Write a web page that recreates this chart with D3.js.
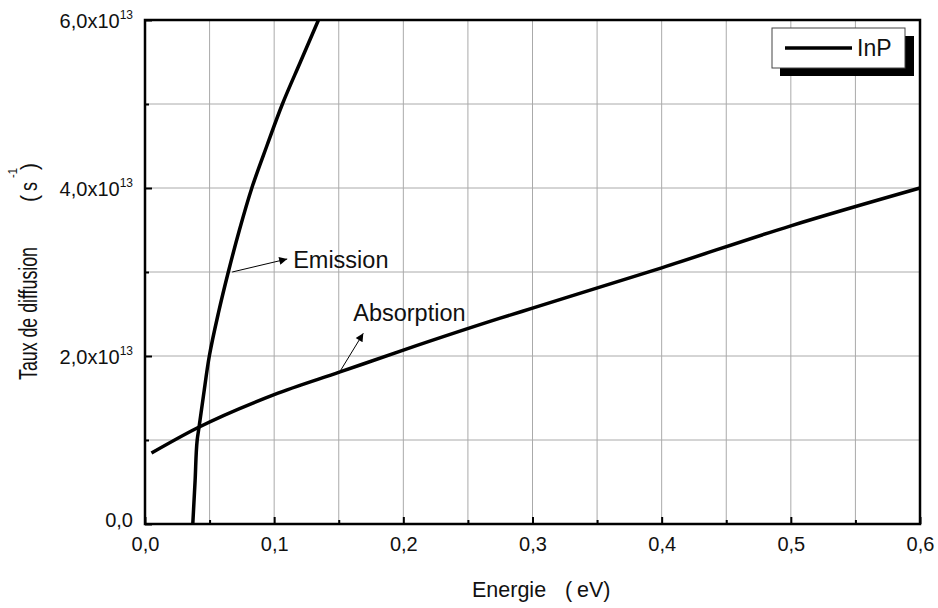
<!DOCTYPE html>
<html>
<head>
<meta charset="utf-8">
<script src="https://cdn.jsdelivr.net/npm/d3@7"></script>
<style>
  body { margin: 0; background: #fff; }
  text { font-family: "Liberation Sans", Arial, sans-serif; fill: #111; }
</style>
</head>
<body>
<svg id="chart" width="938" height="608"></svg>
<script>
// data (x in eV, y in units of 1e13 s^-1)
const emissionX = [0.0370, 0.0388, 0.0404, 0.0418, 0.0452, 0.0498, 0.0568, 0.0645, 0.0731, 0.0827, 0.0943, 0.1064, 0.1203, 0.1343];
const emissionY = [0.0, 0.52, 1.0, 1.15, 1.52, 2.0, 2.51, 3.0, 3.5, 4.0, 4.5, 5.0, 5.5, 6.0];
const absorptionX = [0.005, 0.04, 0.1, 0.151, 0.2, 0.275, 0.3, 0.4, 0.5, 0.6];
const absorptionY = [0.845, 1.14, 1.54, 1.81, 2.07, 2.45, 2.57, 3.05, 3.55, 4.0];
const xTicks = [0, 0.1, 0.2, 0.3, 0.4, 0.5, 0.6];
const yTicks = [0, 2, 4, 6];
const legendLabel = "InP";

const svg = d3.select("#chart");
const margin = {left: 145, right: 18, top: 20, bottom: 84};
const W = 938, H = 608;

const x = d3.scaleLinear().domain([0, 0.6]).range([margin.left, W - margin.right]);
const y = d3.scaleLinear().domain([0, 6]).range([H - margin.bottom, margin.top]);

const fmt = d => d3.format(".1f")(d).replace(".", ",");

// grid
const gx = d3.range(0.05, 0.6, 0.05);
const gy = d3.range(1, 6, 1);
svg.append("g").selectAll("line").data(gx).join("line")
  .attr("x1", d => x(d)).attr("x2", d => x(d))
  .attr("y1", y(0)).attr("y2", y(6))
  .attr("stroke", "#aaa").attr("stroke-width", 1);
svg.append("g").selectAll("line").data(gy).join("line")
  .attr("y1", d => y(d)).attr("y2", d => y(d))
  .attr("x1", x(0)).attr("x2", x(0.6))
  .attr("stroke", "#aaa").attr("stroke-width", 1);

// axes (ticks pointing inward)
const xAxis = d3.axisBottom(x).tickValues(xTicks).tickSize(-7).tickFormat(fmt);
const xMinor = d3.axisBottom(x).tickValues(gx.filter((d, i) => i % 2 === 0)).tickSize(-4).tickFormat("");
const yAxis = d3.axisLeft(y).tickValues(yTicks).tickSize(-7).tickFormat("");
const yMinor = d3.axisLeft(y).tickValues([1, 3, 5]).tickSize(-4).tickFormat("");

function styleAxis(g) {
  g.select(".domain").remove();
  g.selectAll(".tick line").attr("stroke", "#000").attr("stroke-width", 2);
}

svg.append("g").attr("transform", `translate(0,${y(0)})`).call(xAxis).call(styleAxis)
  .selectAll("text")
  .attr("y", 27).attr("dy", 0)
  .style("font-size", "20px").style("font-family", "Liberation Sans, Arial, sans-serif").attr("fill", "#111");
svg.append("g").attr("transform", `translate(0,${y(0)})`).call(xMinor).call(styleAxis);
svg.append("g").attr("transform", `translate(${x(0)},0)`).call(yAxis).call(styleAxis);
svg.append("g").attr("transform", `translate(${x(0)},0)`).call(yMinor).call(styleAxis);

// y tick labels with superscript
yTicks.forEach(v => {
  const t = svg.append("text")
    .attr("x", x(0) - 12).attr("y", y(v) + (v === 0 ? 3 : 8))
    .attr("text-anchor", "end").style("font-size", "20px");
  if (v === 0) {
    t.text(fmt(v));
  } else {
    t.append("tspan").text(fmt(v) + "x10");
    t.append("tspan").attr("dy", -9).style("font-size", "12px").text("13");
  }
});

// frame
svg.append("rect")
  .attr("x", x(0)).attr("y", y(6))
  .attr("width", x(0.6) - x(0)).attr("height", y(0) - y(6))
  .attr("fill", "none").attr("stroke", "#000").attr("stroke-width", 2.5);

// curves
const line = d3.line().x(d => x(d[0])).y(d => y(d[1])).curve(d3.curveMonotoneX);
svg.append("path").datum(absorptionX.map((v, i) => [v, absorptionY[i]]))
  .attr("d", line).attr("fill", "none").attr("stroke", "#000").attr("stroke-width", 3.5);
const emLine = d3.line().x(d => x(d[0])).y(d => y(d[1])).curve(d3.curveMonotoneY);
svg.append("path").datum(emissionX.map((v, i) => [v, emissionY[i]]))
  .attr("d", emLine).attr("fill", "none").attr("stroke", "#000").attr("stroke-width", 3.5);

// annotations
svg.append("defs").append("marker")
  .attr("id", "arr").attr("viewBox", "0 0 10 10").attr("refX", 10).attr("refY", 5)
  .attr("markerWidth", 15).attr("markerHeight", 8).attr("markerUnits", "userSpaceOnUse")
  .attr("orient", "auto")
  .append("path").attr("d", "M0,0 L10,5 L0,10 Z").attr("fill", "#000");

function note(x1, y1, x2, y2, label, tx, ty) {
  svg.append("line")
    .attr("x1", x(x1)).attr("y1", y(y1)).attr("x2", x(x2)).attr("y2", y(y2))
    .attr("stroke", "#000").attr("stroke-width", 1).attr("marker-end", "url(#arr)");
  svg.append("text").attr("x", x(tx)).attr("y", y(ty))
    .style("font-size", "23.5px").text(label);
}
note(0.0675, 3.0, 0.1101, 3.155, "Emission", 0.1147, 3.043);
note(0.1515, 1.83, 0.169, 2.27, "Absorption", 0.1612, 2.417);

// legend with shadow
const lx = 772, ly = 28, lw = 133, lh = 40;
svg.append("rect").attr("x", lx + 8).attr("y", ly + 8).attr("width", lw + 1).attr("height", lh).attr("fill", "#000");
svg.append("rect").attr("x", lx).attr("y", ly).attr("width", lw).attr("height", lh)
  .attr("fill", "#fff").attr("stroke", "#444").attr("stroke-width", 1);
svg.append("line").attr("x1", lx + 13).attr("x2", lx + 80).attr("y1", ly + 20).attr("y2", ly + 20)
  .attr("stroke", "#000").attr("stroke-width", 3.5);
svg.append("text").attr("x", lx + 85).attr("y", ly + 28).style("font-size", "23px").text(legendLabel);

// x axis title
svg.append("text").attr("x", 472).attr("y", 597)
  .style("font-size", "21.5px").text("Energie");
svg.append("text").attr("x", 565).attr("y", 597)
  .style("font-size", "21.5px").text("(");
svg.append("text").attr("x", 577).attr("y", 597)
  .style("font-size", "21.5px").text("eV)");

// y axis title (rotated, letters compressed along the text as in the original)
function yTitle(str, pos, bx, size, len) {
  const t = svg.append("text")
    .attr("transform", `translate(${bx},${pos}) rotate(-90)`)
    .style("font-size", size + "px").text(str);
  if (len) t.attr("textLength", len).attr("lengthAdjust", "spacingAndGlyphs");
}
yTitle("Taux de diffusion", 380, 37, 25, 133);
yTitle("(", 202, 37, 24, 7);
yTitle("s", 191, 37, 24, 9);
yTitle("-1", 178, 17, 13, 10);
yTitle(")", 170, 37, 24, 7);
</script>
</body>
</html>
